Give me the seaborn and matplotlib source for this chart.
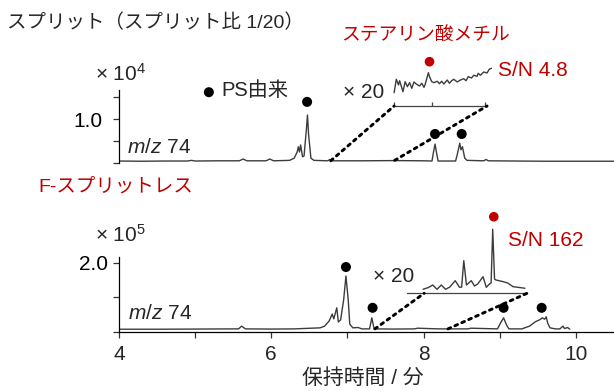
import matplotlib
matplotlib.use("Agg")
import matplotlib.pyplot as plt
import seaborn as sns
from matplotlib.patches import ConnectionPatch

# ---------------- data ----------------
# upper chromatogram: split 1/20, m/z 74, intensity in x10^4
top_time = [4.00, 4.30, 4.60, 4.90, 4.95, 5.00, 5.30, 5.58, 5.63, 5.68,
            5.93, 5.98, 6.03, 6.24, 6.30, 6.34, 6.355, 6.37, 6.385, 6.41,
            6.43, 6.46, 6.475, 6.49, 6.52, 6.56, 6.74, 6.77, 6.80, 7.20,
            7.60, 8.00, 8.11, 8.13, 8.15, 8.17, 8.19, 8.42, 8.44, 8.475,
            8.49, 8.51, 8.54, 8.57, 8.79, 8.82, 8.85, 9.20, 9.60, 10.00, 10.50]
top_int = [0.045, 0.04, 0.045, 0.045, 0.06, 0.045, 0.05, 0.05, 0.09, 0.05,
           0.05, 0.09, 0.05, 0.06, 0.11, 0.25, 0.37, 0.25, 0.41, 0.14,
           0.16, 0.75, 1.09, 0.64, 0.11, 0.06, 0.05, 0.08, 0.05, 0.05,
           0.055, 0.05, 0.045, 0.25, 0.43, 0.23, 0.045, 0.045, 0.18, 0.45,
           0.30, 0.37, 0.11, 0.06, 0.05, 0.08, 0.05, 0.045, 0.04, 0.04, 0.04]
top_dot_t = [6.47, 8.15, 8.50]
top_dot_i = [1.39, 0.66, 0.66]
legend_dot = (5.18, 1.61)

# upper inset (x20), counts
ins1_t = [6.78, 6.80, 6.82, 6.83, 6.86, 6.88, 6.90, 6.92, 6.94, 6.96,
          6.98, 7.01, 7.03, 7.05, 7.06, 7.09, 7.10, 7.12, 7.14, 7.17,
          7.19, 7.21, 7.23, 7.26, 7.28, 7.30, 7.32, 7.35, 7.38, 7.41,
          7.43, 7.45, 7.48, 7.50, 7.53, 7.54, 7.56, 7.59, 7.62, 7.64, 7.66]
ins1_c = [151, 303, 239, 287, 162, 276, 219, 265, 201, 273,
          250, 227, 258, 212, 242, 378, 333, 276, 265, 281,
          253, 281, 250, 295, 258, 287, 303, 273, 295, 310,
          287, 333, 318, 349, 337, 371, 349, 386, 375, 417, 428]
ins1_dot = (7.10, 503)
ins1_range = (6.78, 7.62)

# lower chromatogram: F-splitless, m/z 74, intensity in x10^5
bot_time = [4.00, 4.50, 5.00, 5.50, 5.57, 5.61, 5.66, 6.00, 6.30, 6.64,
            6.70, 6.76, 6.80, 6.82, 6.86, 6.88, 6.91, 6.95, 6.98, 7.01,
            7.03, 7.07, 7.14, 7.19, 7.29, 7.32, 7.35, 7.60, 7.88, 7.92,
            8.20, 8.58, 8.62, 8.97, 9.01, 9.05, 9.09, 9.12, 9.29, 9.39,
            9.47, 9.52, 9.56, 9.59, 9.61, 9.63, 9.66, 9.73, 9.79, 9.83,
            9.85, 9.89, 9.92]
bot_int = [0.08, 0.08, 0.085, 0.09, 0.09, 0.17, 0.09, 0.085, 0.09, 0.12,
           0.17, 0.32, 0.52, 0.38, 0.70, 0.29, 0.35, 0.93, 1.62, 0.93,
           0.23, 0.12, 0.13, 0.09, 0.09, 0.41, 0.09, 0.085, 0.09, 0.11,
           0.09, 0.09, 0.11, 0.09, 0.26, 0.41, 0.20, 0.09, 0.09, 0.17,
           0.30, 0.35, 0.41, 0.37, 0.44, 0.25, 0.12, 0.09, 0.09, 0.17,
           0.10, 0.13, 0.08]
bot_dot_t = [6.98, 7.33, 9.05, 9.55]
bot_dot_i = [1.88, 0.70, 0.70, 0.70]

# lower inset (x20), counts
ins2_t = [7.35, 7.40, 7.44, 7.48, 7.52, 7.56, 7.60, 7.65, 7.69, 7.71,
          7.73, 7.755, 7.80, 7.83, 7.86, 7.91, 7.94, 7.97, 7.985, 8.00,
          8.017, 8.03, 8.10, 8.14, 8.19, 8.25, 8.30]
ins2_c = [580, 840, 1200, 580, 1200, 580, 910, 1830, 870, 900,
          4730, 1200, 1830, 1060, 1350, 2410, 870, 1350, 1500, 9280,
          2070, 1930, 1680, 1490, 960, 840, 730]
ins2_dot = (8.01, 11100)
ins2_range = (7.36, 8.32)

x_ticks = [4, 5, 6, 7, 8, 9, 10]
x_labels = ["4", "", "6", "", "8", "", "10"]

# ---------------- style ----------------
sns.set_theme(style="ticks")
plt.rcParams["font.family"] = ["Liberation Sans", "Noto Sans CJK JP"]
plt.rcParams["mathtext.fontset"] = "custom"
plt.rcParams["mathtext.rm"] = "Liberation Sans"
plt.rcParams["mathtext.it"] = "Liberation Sans:italic"

RED = "#C00000"
TRACE = "#3c3c3c"
W, H = 614, 391
fig = plt.figure(figsize=(W / 100, H / 100), dpi=100)


def rect(l, t, r, b):
    return [l / W, 1 - b / H, (r - l) / W, (b - t) / H]


def ftext(x, y, s, **kw):
    fig.text(x / W, 1 - y / H, s, **kw)


ax_top = fig.add_axes(rect(119, 90, 614, 163))
ax_bot = fig.add_axes(rect(119, 257, 614, 332))
for ax in (ax_top, ax_bot):
    ax.set_facecolor("none")
    ax.set_xlim(4, 10.5)
    for s in ("top", "right"):
        ax.spines[s].set_visible(False)
    ax.spines["left"].set_color("black")
    ax.spines["left"].set_linewidth(0.9)
    ax.tick_params(axis="y", direction="out", length=4, width=0.9,
                   color="#333333", labelsize=15, labelcolor="black")

DOT = 52

# top panel
sns.lineplot(x=top_time, y=top_int, ax=ax_top, color=TRACE, linewidth=1.0,
             estimator=None, sort=False)
sns.scatterplot(x=top_dot_t, y=top_dot_i, ax=ax_top, color="black", s=DOT,
                edgecolor="none", clip_on=False)
sns.scatterplot(x=[legend_dot[0]], y=[legend_dot[1]], ax=ax_top, color="black",
                s=DOT, edgecolor="none", clip_on=False)
ax_top.set_ylim(0, 1.66)
ax_top.spines["bottom"].set_visible(False)
ax_top.set_xticks([])
ax_top.set_yticks([0, 0.5, 1.0, 1.5])
ax_top.set_yticklabels(["", "", "1.0", ""])
ax_top.tick_params(axis="y", pad=8)
ax_top.set_xlabel("")
ax_top.set_ylabel("")

# bottom panel
sns.lineplot(x=bot_time, y=bot_int, ax=ax_bot, color=TRACE, linewidth=1.0,
             estimator=None, sort=False)
sns.scatterplot(x=bot_dot_t, y=bot_dot_i, ax=ax_bot, color="black", s=DOT,
                edgecolor="none", clip_on=False)
ax_bot.set_ylim(0, 2.17)
ax_bot.spines["bottom"].set_color("black")
ax_bot.spines["bottom"].set_linewidth(0.9)
ax_bot.set_yticks([0, 1, 2])
ax_bot.set_yticklabels(["", "", "2.0"])
ax_bot.tick_params(axis="y", pad=4)
ax_bot.set_xticks(x_ticks)
ax_bot.set_xticklabels(x_labels)
ax_bot.tick_params(axis="x", direction="out", length=4, width=0.9,
                   color="#333333", labelsize=15, pad=5)
ax_bot.set_xlabel("")
ax_bot.set_ylabel("")

# insets
def make_inset(r, xlim, ylim, bounds):
    ia = fig.add_axes(r)
    ia.set_facecolor("none")
    ia.set_xlim(*xlim)
    ia.set_ylim(*ylim)
    for s in ("top", "right", "left"):
        ia.spines[s].set_visible(False)
    ia.spines["bottom"].set_color("#444444")
    ia.spines["bottom"].set_linewidth(0.9)
    ia.spines["bottom"].set_bounds(*bounds)
    ia.set_yticks([])
    return ia


ins1 = make_inset(rect(393, 52, 492, 106), (6.77, 7.665), (0, 613), (6.77, 7.62))
sns.lineplot(x=ins1_t, y=ins1_c, ax=ins1, color=TRACE, linewidth=1.0,
             estimator=None, sort=False)
sns.scatterplot(x=[ins1_dot[0]], y=[ins1_dot[1]], ax=ins1, color=RED, s=48,
                edgecolor="none", clip_on=False)
ins1.set_xticks([6.78, 7.12, 7.60])
ins1.set_xticklabels([])
ins1.tick_params(axis="x", direction="in", length=3, width=0.9, color="#444444")
ins1.set_xlabel("")
ins1.set_ylabel("")

ins2 = make_inset(rect(407, 210, 527, 293.3), (7.20, 8.32), (0, 12080), (7.20, 8.32))
sns.lineplot(x=ins2_t, y=ins2_c, ax=ins2, color=TRACE, linewidth=1.0,
             estimator=None, sort=False)
sns.scatterplot(x=[ins2_dot[0]], y=[ins2_dot[1]], ax=ins2, color=RED, s=48,
                edgecolor="none", clip_on=False)
ins2.set_xticks([])
ins2.set_xlabel("")
ins2.set_ylabel("")

# dotted zoom lines
dot_style = dict(color="black", linewidth=2.1, linestyle=(0, (1, 1.6)))
for xa, base in ((ins1_range[0], 0.05), (ins1_range[1], 0.06)):
    fig.add_artist(ConnectionPatch(xyA=(xa, base), coordsA=ax_top.transData,
                                   xyB=(xa, 0), coordsB=ins1.transData, **dot_style))
for xa in ins2_range:
    fig.add_artist(ConnectionPatch(xyA=(xa, 0.09), coordsA=ax_bot.transData,
                                   xyB=(xa, 0), coordsB=ins2.transData, **dot_style))

# texts
ftext(7, 23, "スプリット（スプリット比 1/20）", fontsize=14, va="center", ha="left")
ftext(95, 81, "× $10^4$", fontsize=15, va="baseline", ha="left")
ftext(221, 90, "PS由来", fontsize=14.5, va="center", ha="left")
ftext(343, 92, "× 20", fontsize=15, va="center", ha="left")
ftext(341, 35, "ステアリン酸メチル", fontsize=13.5, va="center", ha="left", color=RED)
ftext(498, 70, "S/N 4.8", fontsize=15, va="center", ha="left", color=RED)
ftext(127, 153, "$m/z$ 74", fontsize=15, va="baseline", ha="left")
ftext(38, 187, "F-スプリットレス", fontsize=14, va="center", ha="left", color=RED)
ftext(95, 242, "× $10^5$", fontsize=15, va="baseline", ha="left")
ftext(128, 319, "$m/z$ 74", fontsize=15, va="baseline", ha="left")
ftext(373, 276, "× 20", fontsize=15, va="center", ha="left")
ftext(508, 240, "S/N 162", fontsize=15, va="center", ha="left", color=RED)
ftext(363, 378, "保持時間 / 分", fontsize=15, va="center", ha="center")

fig.savefig("out.png", dpi=100)
